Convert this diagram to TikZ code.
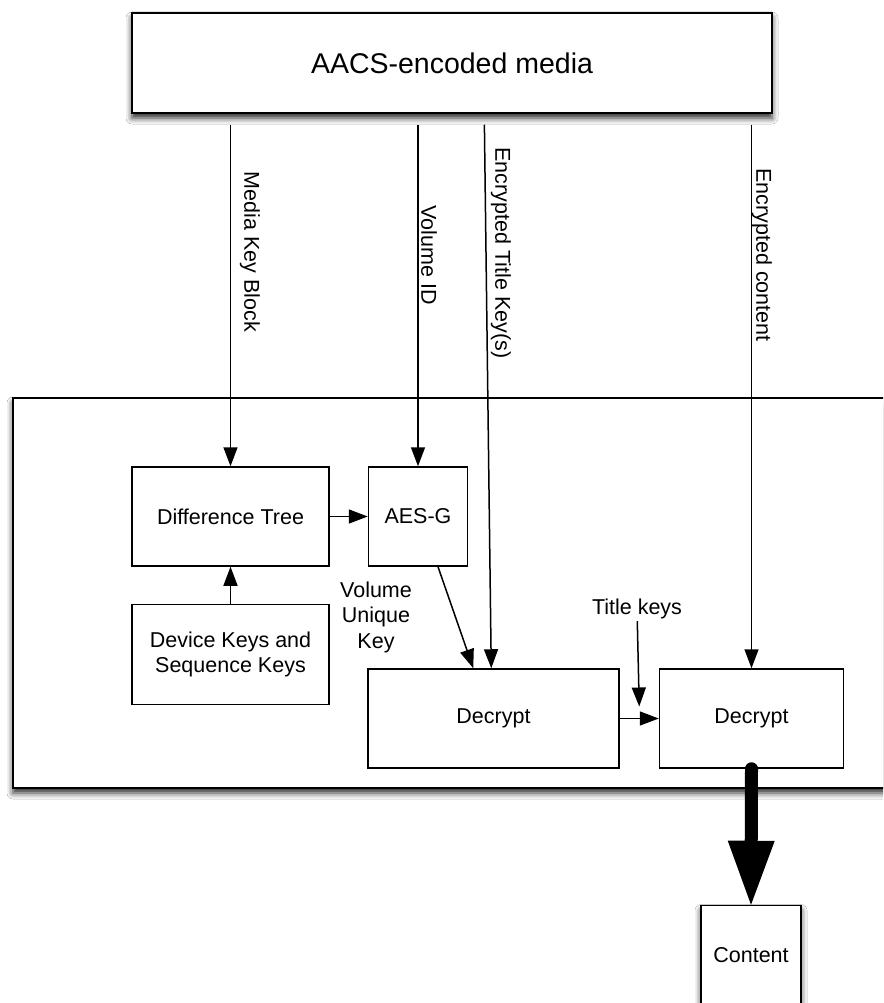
\documentclass[tikz,border=0pt]{standalone}
\usepackage{fontspec}
\setmainfont{Liberation Sans}
\usetikzlibrary{positioning, arrows.meta, calc, shadows.blur}
\newcommand{\lblfont}{\fontsize{21.5}{25.5}\selectfont}
\newcommand{\headfont}{\fontsize{28.5}{32}\selectfont}

\begin{document}
\begin{tikzpicture}[x=1pt, y=-1pt,
    blk/.style={draw=black, line width=1.5pt, fill=white, inner sep=2pt,
                align=center, font=\lblfont},
    shade/.style={blur shadow={shadow xshift=0pt, shadow yshift=-5pt,
                  shadow blur radius=6pt, shadow opacity=85}},
    flow/.style={-{Triangle[length=19pt, width=14pt]}, line width=1.5pt},
    feed/.style={flow, shorten <=11pt},
    bigflow/.style={-{Triangle[length=64pt, width=47pt, line width=0pt]},
                    line width=13pt, line cap=round},
    vlbl/.style={rotate=-90, font=\lblfont, inner sep=0pt},
    lbl/.style={font=\lblfont, inner sep=2pt, align=center}
  ]
  \path[use as bounding box, fill=white] (0,0) rectangle (883,1003);
  \clip (0,0) rectangle (883,1003);

  % media on top, player below
  \node[blk, shade, minimum width=640pt, minimum height=100pt, font=\headfont]
        (media) at (452,63) {AACS-encoded media};
  \node[blk, shade, minimum width=887pt, minimum height=390pt] (reader) at (456.5,593) {};

  \node[blk, minimum width=197pt, minimum height=99pt] (dtree) at (230.5,516.5) {Difference Tree};
  \node[blk, minimum width=99pt, minimum height=99pt, right=38pt of dtree] (aesg) {AES-G};
  \node[blk, minimum width=197pt, minimum height=100pt, below=37pt of dtree]
        (devkeys) {Device Keys and\\Sequence Keys};
  \node[blk, minimum width=251pt, minimum height=99pt] (dec1) at (493.5,718.5) {Decrypt};
  \node[blk, minimum width=184pt, minimum height=99pt, right=39pt of dec1] (dec2) {Decrypt};
  \node[blk, shade, minimum width=100pt, minimum height=99pt] (content) at (751,955) {Content};

  \node[lbl, inner sep=0pt] (vuk) at (376,617) {Volume\\Unique\\Key};
  \node[lbl] (tkeys) at (637,609) {Title keys};
  \coordinate (tkend) at ($(dec1.east)!0.5!(dec2.west)+(0,-12)$);

  % inputs read from the disc
  \draw[feed] (dtree.north |- media.south) -- (dtree.north);
  \draw[feed] (aesg.north |- media.south) -- (aesg.north);
  \draw[feed] ([xshift=353pt]media.south west) -- ([xshift=124pt]dec1.north west);
  \draw[feed] (dec2.north |- media.south) -- (dec2.north);

  \node[vlbl] (mkb) at (250,252) {Media Key Block};
  \node[vlbl] (volid) at (429,255) {Volume ID};
  \node[vlbl] (etk) at (501,253) {Encrypted Title Key(s)};
  \node[vlbl] (econt) at (762,255) {Encrypted content};

  % key chain
  \draw[flow] (dtree) -- (aesg);
  \draw[flow] (devkeys) -- (dtree);
  \draw[flow] ([xshift=20pt]aesg.south) -- ([xshift=106pt]dec1.north west);
  \draw[flow] (dec1) -- (dec2);
  \draw[flow] (tkeys) -- (tkend);

  \draw[bigflow] (dec2.south) -- (content.north);
\end{tikzpicture}
\end{document}
